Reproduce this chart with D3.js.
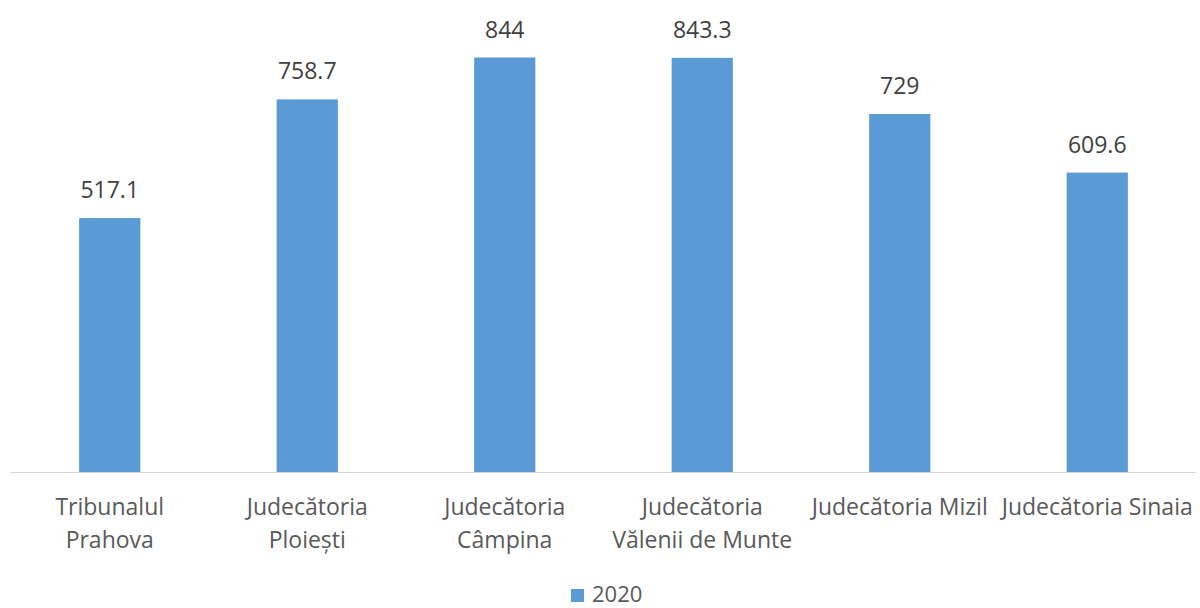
<!DOCTYPE html>
<html>
<head>
<meta charset="utf-8">
<script src="https://cdn.jsdelivr.net/npm/d3@7"></script>
<style>
  body { margin: 0; background: #fff; }
  text { font-family: "Open Sans", sans-serif; fill: #595959; }
</style>
</head>
<body>
<svg id="chart"></svg>
<script>
// Instante Prahova, 2020

const categories = [
  ['Tribunalul', 'Prahova'],
  ['Judecătoria', 'Ploiești'],
  ['Judecătoria', 'Câmpina'],
  ['Judecătoria', 'Vălenii de Munte'],
  ['Judecătoria Mizil'],
  ['Judecătoria Sinaia']
];
const values2020 = [517.1, 758.7, 844, 843.3, 729, 609.6];
const valueLabels = ['517.1', '758.7', '844', '843.3', '729', '609.6'];
const seriesName = '2020';

const width = 1200;
const height = 608;

const svg = d3.select('#chart')
  .attr('width', width)
  .attr('height', height);

const x = d3.scaleBand()
  .domain(d3.range(categories.length))
  .range([11, 1196])
  .paddingInner(0.69)
  .paddingOuter(0.345);

const y = d3.scaleLinear()
  .domain([0, 900])
  .range([472, 30]);

svg.selectAll('.bar')
  .data(values2020)
  .enter().append('rect')
    .attr('class', 'bar')
    .attr('x', (d, i) => x(i))
    .attr('y', d => y(d))
    .attr('width', x.bandwidth())
    .attr('height', d => y(0) - y(d))
    .attr('fill', '#5B9BD5');

svg.append('line')
  .attr('x1', 10)
  .attr('x2', 1196)
  .attr('y1', y(0) + 0.5)
  .attr('y2', y(0) + 0.5)
  .attr('stroke', '#D9D9D9')
  .attr('stroke-width', 1);

svg.selectAll('.value')
  .data(values2020)
  .enter().append('text')
    .attr('class', 'value')
    .attr('x', (d, i) => x(i) + x.bandwidth() / 2)
    .attr('y', d => y(d) - 20)
    .attr('text-anchor', 'middle')
    .style('font-size', '23px')
    .style('fill', '#404040')
    .text((d, i) => valueLabels[i]);

const cat = svg.selectAll('.cat')
  .data(categories)
  .enter().append('text')
    .attr('class', 'cat')
    .attr('x', (d, i) => x(i) + x.bandwidth() / 2)
    .attr('y', y(0) + 43)
    .attr('text-anchor', 'middle')
    .style('font-size', '23px');

cat.selectAll('tspan')
  .data(d => d)
  .enter().append('tspan')
    .attr('x', function () { return this.parentNode.getAttribute('x'); })
    .attr('dy', (d, i) => i ? 33 : 0)
    .text(d => d);

const legend = svg.append('g')
  .attr('transform', 'translate(571,589)');

legend.append('rect')
  .attr('width', 13)
  .attr('height', 13)
  .attr('fill', '#5B9BD5');

legend.append('text')
  .attr('x', 21)
  .attr('y', 13)
  .style('font-size', '22px')
  .text(seriesName);
</script>
</body>
</html>
